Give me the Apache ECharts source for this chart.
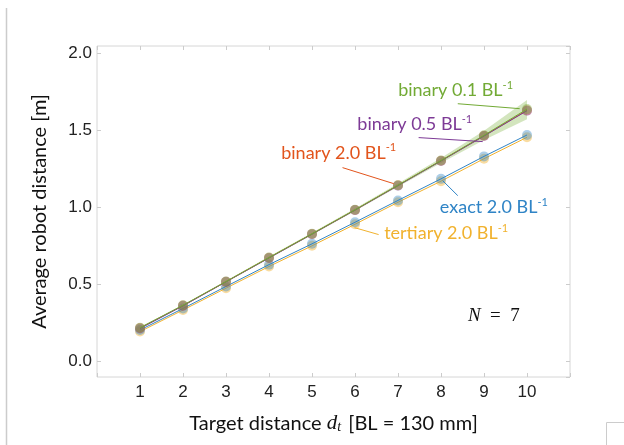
<!DOCTYPE html>
<html><head><meta charset="utf-8">
<script src="https://cdn.jsdelivr.net/npm/echarts@6/dist/echarts.min.js"></script>
<style>html,body{margin:0;padding:0;background:#fff}#c{width:624px;height:445px}</style>
</head><body><div id="c"></div>
<script>
// ---- data ----
const xValues = [1, 2, 3, 4, 5, 6, 7, 8, 9, 10];
const binary01 = [0.220, 0.366, 0.520, 0.676, 0.830, 0.986, 1.146, 1.306, 1.470, 1.640];
const binary05 = [0.215, 0.362, 0.518, 0.673, 0.828, 0.984, 1.143, 1.303, 1.465, 1.630];
const binary20 = [0.218, 0.364, 0.519, 0.675, 0.829, 0.985, 1.145, 1.305, 1.467, 1.632];
const exact20 = [0.205, 0.345, 0.488, 0.630, 0.765, 0.905, 1.047, 1.187, 1.333, 1.472];
const tertiary20 = [0.195, 0.335, 0.477, 0.618, 0.752, 0.892, 1.035, 1.172, 1.318, 1.457];
const band01Lo = [0.216, 0.362, 0.515, 0.670, 0.823, 0.978, 1.135, 1.290, 1.440, 1.575];
const band01Hi = [0.224, 0.370, 0.525, 0.682, 0.837, 0.994, 1.157, 1.322, 1.500, 1.700];
const yTickValues = [0, 0.5, 1.0, 1.5, 2.0];
const xTickValues = [1, 2, 3, 4, 5, 6, 7, 8, 9, 10];

const C = {
  b01: '#72aa35', b05: '#7d3a96', b20: '#e2541c', exact: '#2f84c6', tert: '#f1b22e'
};

// annotations in data coordinates
const annotations = [
  {label: 'binary 0.1 BL', color: C.b01, text: [8.34, 1.76], line: [[8.39, 1.675], [9.83, 1.643]]},
  {label: 'binary 0.5 BL', color: C.b05, text: [7.39, 1.539], line: [[7.48, 1.455], [8.97, 1.429]]},
  {label: 'binary 2.0 BL', color: C.b20, text: [5.62, 1.357], line: [[5.71, 1.260], [6.90, 1.156]]},
  {label: 'exact 2.0 BL', color: C.exact, text: [9.23, 1.0], line: [[8.04, 1.175], [8.39, 1.078]]},
  {label: 'tertiary 2.0 BL', color: C.tert, text: [8.12, 0.831], line: [[5.99, 0.870], [6.55, 0.825]]}
];
const nNote = {text: [9.23, 0.299]};

const pairs = arr => xValues.map((x, i) => [x, arr[i]]);

function lineSeries(name, arr, color, opacity, z) {
  return {
    name, type: 'line', data: pairs(arr), z,
    symbol: 'circle', symbolSize: 10,
    lineStyle: {color, width: 1},
    itemStyle: {color, opacity},
    emphasis: {disabled: true},
    animation: false
  };
}

const chart = echarts.init(document.getElementById('c'), null, {renderer: 'canvas'});

const tickLabelStyle = {fontFamily: 'Liberation Sans', fontSize: 17, color: '#222'};
const tickStyle = {show: true, inside: true, length: 4, lineStyle: {color: '#cccccc'}};
const noLine = {show: false, onZero: false};

chart.setOption({
  animation: false,
  grid: {left: 97, right: 54, top: 46, bottom: 68, show: true, borderColor: '#d6d6d6', borderWidth: 1, backgroundColor: '#fff'},
  xAxis: [
    {
      type: 'value', min: 0, max: 11, interval: 1, position: 'bottom',
      axisLine: noLine, splitLine: {show: false},
      axisTick: tickStyle,
      axisLabel: Object.assign({margin: 7, formatter: v => xTickValues.includes(v) ? String(v) : ''}, tickLabelStyle),
      name: '{n|Target distance }{d|d}{t|t}{n| [BL = 130 mm]}',
      nameLocation: 'middle', nameGap: 36,
      nameTextStyle: {
        rich: {
          n: {fontFamily: 'Lato', fontSize: 20, color: '#111'},
          d: {fontFamily: 'Liberation Serif', fontStyle: 'italic', fontSize: 21, color: '#111'},
          t: {fontFamily: 'Liberation Serif', fontStyle: 'italic', fontSize: 14, color: '#111', verticalAlign: 'bottom', padding: [6, 2, 0, 0]}
        }
      }
    },
    {
      type: 'value', min: 0, max: 11, interval: 1, position: 'top',
      axisLine: noLine, splitLine: {show: false},
      axisTick: tickStyle, axisLabel: {show: false}
    }
  ],
  yAxis: [
    {
      type: 'value', min: -0.1, max: 2.05, splitNumber: 4, position: 'left',
      axisLine: noLine, splitLine: {show: false},
      axisTick: tickStyle,
      axisLabel: Object.assign({margin: 5, showMinLabel: false, showMaxLabel: false,
        formatter: v => yTickValues.some(t => Math.abs(t - v) < 1e-9) ? v.toFixed(1) : ''}, tickLabelStyle),
      name: 'Average robot distance [m]',
      nameLocation: 'middle', nameGap: 47,
      nameTextStyle: {fontFamily: 'Lato', fontSize: 20, color: '#111'}
    },
    {
      type: 'value', min: -0.1, max: 2.05, splitNumber: 4, position: 'right',
      axisLine: noLine, splitLine: {show: false},
      axisTick: tickStyle, axisLabel: {show: false}
    }
  ],
  series: [
    {
      type: 'custom', z: 1, silent: true, data: [[0]],
      renderItem: (params, api) => {
        const up = xValues.map((x, i) => api.coord([x, band01Hi[i]]));
        const lo = xValues.map((x, i) => api.coord([x, band01Lo[i]])).reverse();
        return {type: 'polygon', shape: {points: up.concat(lo)}, style: {fill: 'rgba(130,180,70,0.35)', stroke: 'none'}};
      }
    },
    lineSeries('tertiary 2.0', tertiary20, C.tert, 0.45, 2),
    lineSeries('exact 2.0', exact20, C.exact, 0.4, 3),
    lineSeries('binary 2.0', binary20, C.b20, 0.4, 4),
    lineSeries('binary 0.5', binary05, C.b05, 0.4, 5),
    lineSeries('binary 0.1', binary01, C.b01, 0.4, 6)
  ]
});

function px(p) { return chart.convertToPixel({gridIndex: 0}, p); }

const graphics = [];
annotations.forEach(a => {
  const p1 = px(a.line[0]), p2 = px(a.line[1]), t = px(a.text);
  graphics.push({type: 'line', z: 10, shape: {x1: p1[0], y1: p1[1], x2: p2[0], y2: p2[1]}, style: {stroke: a.color, lineWidth: 1}});
  graphics.push({
    type: 'text', z: 10, x: t[0], y: t[1],
    style: {
      text: '{a|' + a.label + '}{s|-1}',
      align: 'center', verticalAlign: 'middle',
      rich: {
        a: {fontFamily: 'Lato', fontSize: 18, fill: a.color, lineHeight: 22},
        s: {fontFamily: 'Lato', fontSize: 11, fill: a.color, verticalAlign: 'top', lineHeight: 22, padding: [0, 0, 9, 0]}
      }
    }
  });
});
const nt = px(nNote.text);
graphics.push({
  type: 'text', z: 10, x: nt[0], y: nt[1],
  style: {
    text: '{i|N}{r|  =  7}', align: 'center', verticalAlign: 'middle',
    rich: {
      i: {fontFamily: 'Liberation Serif', fontStyle: 'italic', fontSize: 19, fill: '#111'},
      r: {fontFamily: 'Liberation Serif', fontSize: 19, fill: '#111'}
    }
  }
});
// figure-crop artefacts
graphics.push({type: 'line', shape: {x1: 6.5, y1: 8, x2: 6.5, y2: 445}, style: {stroke: '#cccccc', lineWidth: 1.5}});
graphics.push({type: 'polyline', shape: {points: [[606.5, 445], [606.5, 422.5], [624, 422.5]]}, style: {stroke: '#cccccc', lineWidth: 1, fill: null}});
chart.setOption({graphic: graphics});
</script>
</body></html>
